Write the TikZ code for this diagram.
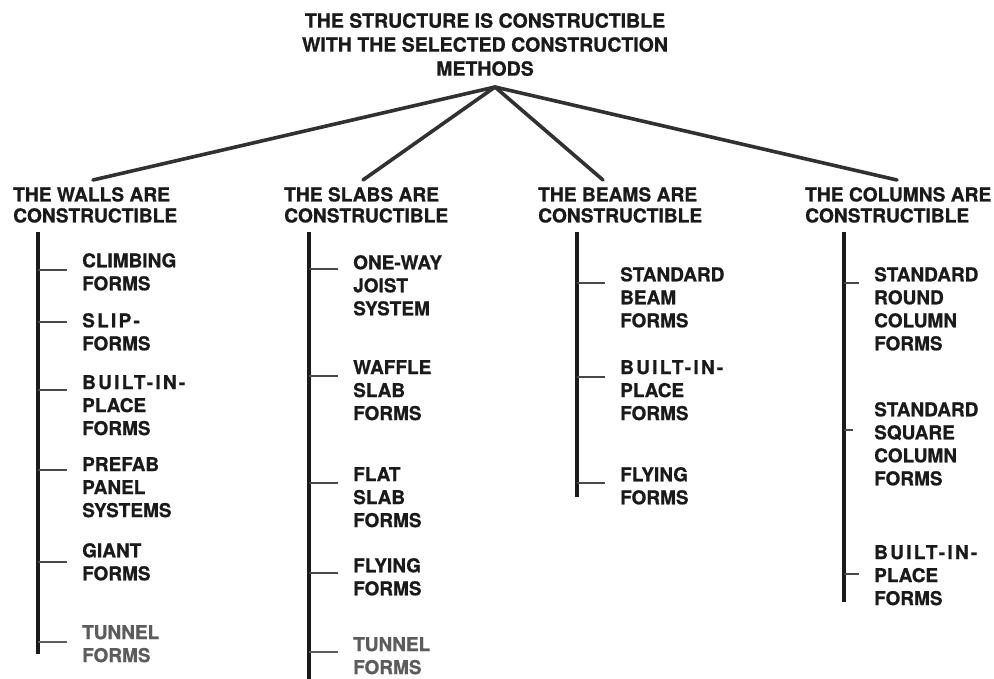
\documentclass[tikz,border=0pt]{standalone}
\usepackage{fontspec}
\setmainfont[BoldFeatures={FakeBold=0.8}]{TeX Gyre Heros}
\definecolor{inkc}{HTML}{1A1A1A}
\definecolor{fadec}{HTML}{5C5C5C}
% words set with open letter spacing
\newcommand{\openword}[1]{{\addfontfeature{LetterSpace=12}#1}}
\begin{document}
\begin{tikzpicture}[x=1pt,y=-1pt,
  title/.style={anchor=north, align=center, inner sep=0pt, text=inkc,
    font=\bfseries\fontsize{19.5}{24}\selectfont},
  head/.style={anchor=north west, align=left, inner sep=0pt, text=inkc,
    font=\bfseries\fontsize{19.2}{21}\selectfont},
  item/.style={anchor=north west, align=left, inner sep=0pt, text=inkc,
    font=\bfseries\fontsize{19}{23}\selectfont},
  faded/.style={text=fadec},
  branch/.style={draw=inkc!90, line width=3.6pt, line cap=round},
  trunk/.style={draw=inkc, line width=3.4pt},
  tick/.style={draw=inkc!80, line width=2.8pt},
  fadetick/.style={draw=fadec, line width=2.8pt},
]
\useasboundingbox (0,0) rectangle (994,679);
\fill[white] (0,0) rectangle (994,679);

% root statement
\node[title] (root) at (485,13)
  {THE STRUCTURE IS CONSTRUCTIBLE\\WITH THE SELECTED CONSTRUCTION\\METHODS};
\coordinate (apex) at (495,87);

% second level
\node[head] (walls) at (13,187) {THE WALLS ARE\\CONSTRUCTIBLE};
\node[head] (slabs) at (284,187) {THE SLABS ARE\\CONSTRUCTIBLE};
\node[head] (beams) at (538,187) {THE BEAMS ARE\\CONSTRUCTIBLE};
\node[head] (cols) at (805,187) {THE COLUMNS ARE\\CONSTRUCTIBLE};

\coordinate (walls-in) at (93,180);
\coordinate (slabs-in) at (363,180);
\coordinate (beams-in) at (603,180);
\coordinate (cols-in) at (897,180);

\draw[branch] (apex) -- (walls-in);
\draw[branch] (apex) -- (slabs-in);
\draw[branch] (apex) -- (beams-in);
\draw[branch] (apex) -- (cols-in);

% ---------- walls ----------
\coordinate (wt) at (38,232);
\coordinate (wb) at (38,654);
\draw[trunk] (wt) -- (wb);
\node[item] (w1) at (82,253) {CLIMBING\\FORMS};
\node[item] (w2) at (82,313) {\openword{SLIP-}\\FORMS};
\node[item] (w3) at (82,375) {\openword{BUILT-IN-}\\PLACE\\FORMS};
\node[item] (w4) at (82,457) {PREFAB\\PANEL\\SYSTEMS};
\node[item] (w5) at (82,543) {GIANT\\FORMS};
\node[item,faded] (w6) at (82,625) {TUNNEL\\FORMS};
\coordinate (w1t) at (67,270);
\coordinate (w2t) at (67,322);
\coordinate (w3t) at (67,390);
\coordinate (w4t) at (67,470);
\coordinate (w5t) at (67,562);
\coordinate (w6t) at (67,642);
\foreach \t in {w1t,w2t,w3t,w4t,w5t}
  \draw[tick] (wt |- \t) -- (\t);
\draw[fadetick] (wt |- w6t) -- (w6t);

% ---------- slabs ----------
\coordinate (st) at (309,232);
\coordinate (sb) at (309,679);
\draw[trunk] (st) -- (sb);
\node[item] (s1) at (353,255) {ONE-WAY\\JOIST\\SYSTEM};
\node[item] (s2) at (353,360) {WAFFLE\\SLAB\\FORMS};
\node[item] (s3) at (353,467) {FLAT\\SLAB\\FORMS};
\node[item] (s4) at (353,558) {FLYING\\FORMS};
\node[item,faded] (s5) at (353,637) {TUNNEL\\FORMS};
\coordinate (s1t) at (338,269);
\coordinate (s2t) at (338,376);
\coordinate (s3t) at (338,483);
\coordinate (s4t) at (338,573);
\coordinate (s5t) at (338,652);
\foreach \t in {s1t,s2t,s3t,s4t}
  \draw[tick] (st |- \t) -- (\t);
\draw[fadetick] (st |- s5t) -- (s5t);

% ---------- beams ----------
\coordinate (bt) at (577,232);
\coordinate (bb) at (577,497);
\draw[trunk] (bt) -- (bb);
\node[item] (b1) at (620,267) {STANDARD\\BEAM\\FORMS};
\node[item] (b2) at (620,360) {\openword{BUILT-IN-}\\PLACE\\FORMS};
\node[item] (b3) at (620,467) {FLYING\\FORMS};
\coordinate (b1t) at (605,283);
\coordinate (b2t) at (605,377);
\coordinate (b3t) at (605,483);
\foreach \t in {b1t,b2t,b3t}
  \draw[tick] (bt |- \t) -- (\t);

% ---------- columns ----------
\coordinate (ct) at (844,232);
\coordinate (cb) at (844,602);
\draw[trunk] (ct) -- (cb);
\node[item] (c1) at (874,267) {STANDARD\\ROUND\\COLUMN\\FORMS};
\node[item] (c2) at (874,402) {STANDARD\\SQUARE\\COLUMN\\FORMS};
\node[item] (c3) at (874,545) {\openword{BUILT-IN-}\\PLACE\\FORMS};
\coordinate (c1t) at (859,283);
\coordinate (c2t) at (853,430);
\coordinate (c3t) at (859,574);
\foreach \t in {c1t,c2t,c3t}
  \draw[tick] (ct |- \t) -- (\t);
\end{tikzpicture}
\end{document}
